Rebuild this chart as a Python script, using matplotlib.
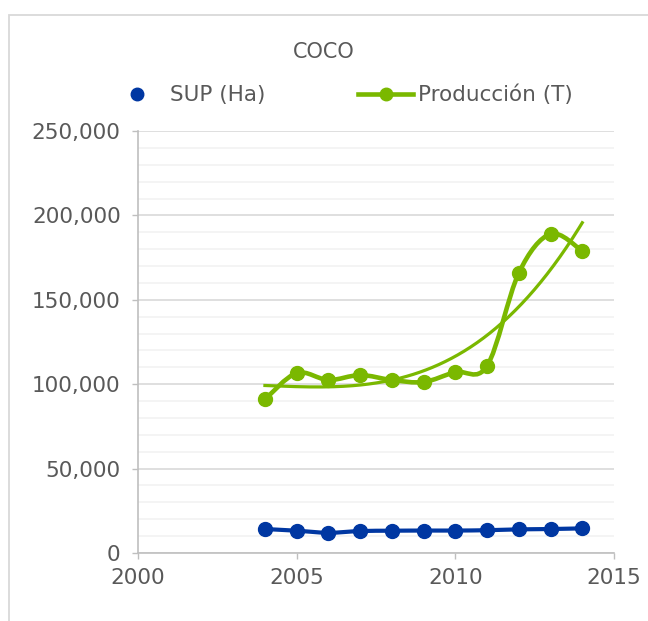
import numpy as np
import matplotlib
matplotlib.use("Agg")
import matplotlib.pyplot as plt
from matplotlib.path import Path
from matplotlib.patches import PathPatch, Rectangle
from matplotlib.lines import Line2D
from matplotlib.ticker import MultipleLocator, FuncFormatter

# datos
years = [2004, 2005, 2006, 2007, 2008, 2009, 2010, 2011, 2012, 2013, 2014]
sup_ha = [14200, 13200, 12000, 13000, 13200, 13300, 13300, 13500, 14000, 14200, 14600]
prod_t = [91000, 106600, 102500, 105400, 102500, 101300, 107200, 110800, 165900, 189000, 178900]

title = "COCO"
label_sup = "SUP (Ha)"
label_prod = "Producción (T)"

blue = "#0037A2"
green = "#7AB800"
txt = "#595959"
fs = 15.5


def smooth_path(x, y):
    # curva tipo "linea suavizada" de Excel (bezier cubica)
    x = np.asarray(x, float)
    y = np.asarray(y, float)
    n = len(x)
    verts = [(x[0], y[0])]
    codes = [Path.MOVETO]
    for i in range(n - 1):
        i0 = max(i - 1, 0)
        i2 = min(i + 2, n - 1)
        c1 = (x[i] + (x[i + 1] - x[i0]) / 6, y[i] + (y[i + 1] - y[i0]) / 6)
        c2 = (x[i + 1] - (x[i2] - x[i]) / 6, y[i + 1] - (y[i2] - y[i]) / 6)
        verts += [c1, c2, (x[i + 1], y[i + 1])]
        codes += [Path.CURVE4] * 3
    return Path(verts, codes)


fig = plt.figure(figsize=(6.48, 6.21), dpi=100)
ax = fig.add_axes([138 / 648, 1 - 553 / 621, 476 / 648, 422 / 621])

# lineas suavizadas
ax.add_patch(PathPatch(smooth_path(years, sup_ha), fill=False, edgecolor=blue, lw=3, zorder=3))
ax.add_patch(PathPatch(smooth_path(years, prod_t), fill=False, edgecolor=green, lw=3.3, zorder=3))
ax.plot(years, sup_ha, "o", color=blue, ms=10, zorder=4)
ax.plot(years, prod_t, "o", color=green, ms=10, zorder=4)

# linea de tendencia polinomica (grado 3)
coef = np.polyfit(years, prod_t, 3)
xt = np.linspace(years[0], years[-1], 200)
ax.plot(xt, np.polyval(coef, xt), color=green, lw=2.3, zorder=3)

ax.set_xlim(2000, 2015)
ax.set_ylim(0, 250000)
ax.xaxis.set_major_locator(MultipleLocator(5))
ax.yaxis.set_major_locator(MultipleLocator(50000))
ax.yaxis.set_minor_locator(MultipleLocator(10000))
ax.yaxis.set_major_formatter(FuncFormatter(lambda v, p: f"{int(v):,}"))

ax.grid(axis="y", which="major", color="#D9D9D9", lw=1.2, zorder=0)
ax.grid(axis="y", which="minor", color="#F2F2F2", lw=1.2, zorder=0)
ax.set_axisbelow(True)

for s in ["top", "right"]:
    ax.spines[s].set_visible(False)
for s in ["left", "bottom"]:
    ax.spines[s].set_color("#BFBFBF")
    ax.spines[s].set_linewidth(1.2)

ax.tick_params(axis="y", which="major", length=4.5, width=1, color="#BFBFBF",
               labelsize=fs, labelcolor=txt, pad=8)
ax.tick_params(axis="y", which="minor", length=0)
ax.tick_params(axis="x", length=4.5, width=1, color="#BFBFBF",
               labelsize=fs, labelcolor=txt, pad=6)

fig.text(0.5, 1 - 52 / 621, title, ha="center", va="center", fontsize=15, color=txt)

handles = [
    Line2D([], [], ls="none", marker="o", color=blue, ms=9),
    Line2D([], [], color=green, lw=3.3, marker="o", ms=9),
]
fig.legend(handles, [label_sup, label_prod], loc="center left",
           bbox_to_anchor=(110 / 648, 1 - 95 / 621), ncol=2, frameon=False,
           fontsize=fs, labelcolor=txt, handlelength=2.55, handletextpad=0.25,
           columnspacing=4.3, borderpad=0, borderaxespad=0)

# borde del area del grafico
fig.patches.append(Rectangle((9 / 648, -0.1), 2, 1.1 - 15 / 621, transform=fig.transFigure,
                             fill=False, edgecolor="#D9D9D9", lw=1.3))

fig.savefig("out.png", dpi=100)
